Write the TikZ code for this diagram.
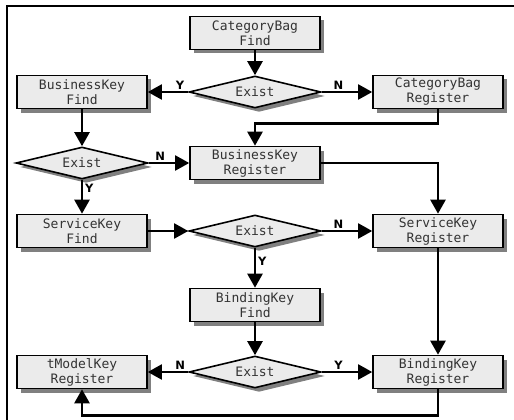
\documentclass[tikz,border=0pt]{standalone}
\usepackage{fontspec}
\setmonofont{DejaVu Sans Mono}
\setsansfont{DejaVu Sans}
\usetikzlibrary{positioning}
\usetikzlibrary{arrows.meta}
\usetikzlibrary{shapes.geometric}
\usetikzlibrary{shadows}
\definecolor{boxgray}{HTML}{EBEBEB}
\definecolor{shadowgray}{HTML}{808080}

\begin{document}
\begin{tikzpicture}[
            x = 1pt, y = -1pt, % pixel grid, y runs down
            > = {Triangle[length=14pt, width=15pt]}, % arrow head style
            line width = 2.4pt, % connector width
            font = \ttfamily\fontsize{13}{15}\selectfont
        ]

        \tikzstyle{box}=[
            draw,
            rectangle,
            line width = 1.6pt,
            fill = boxgray,
            text = black!80,
            align = center,
            inner sep = 0pt,
            minimum width = 130pt,
            minimum height = 33pt,
            drop shadow = {shadow xshift=4pt, shadow yshift=-4pt, fill=shadowgray, opacity=1}
        ]
        \tikzstyle{test}=[
            draw,
            diamond,
            aspect = 4,
            line width = 1.6pt,
            fill = boxgray,
            text = black!80,
            inner sep = 0pt,
            minimum width = 132pt,
            minimum height = 32pt,
            drop shadow = {shadow xshift=4pt, shadow yshift=-4pt, fill=shadowgray, opacity=1}
        ]
        \tikzstyle{yn}=[
            font = \sffamily\bfseries\fontsize{11.5}{12}\selectfont,
            inner sep = 2pt
        ]

        \useasboundingbox (0,0) rectangle (514,420);
        \draw[line width=2pt] (6.5,420) -- (6.5,6.5) -- (514,6.5);

        \node[box] (CBFind) at (255,33) {CategoryBag\\Find};
        \node[test] (D1) [node distance=59pt, below of=CBFind] {Exist};
        \node[box] (BKFind) [node distance=173pt, left of=D1] {BusinessKey\\Find};
        \node[box] (CBReg) [node distance=183pt, right of=D1] {CategoryBag\\Register};
        \node[test] (D2) [node distance=71pt, below of=BKFind] {Exist};
        \node[box] (BKReg) [node distance=173pt, right of=D2] {BusinessKey\\Register};
        \node[box] (SKFind) [node distance=68pt, below of=D2] {ServiceKey\\Find};
        \node[test] (D3) [node distance=173pt, right of=SKFind] {Exist};
        \node[box] (SKReg) [node distance=183pt, right of=D3] {ServiceKey\\Register};
        \node[box] (BDFind) [node distance=74pt, below of=D3] {BindingKey\\Find};
        \node[test] (D4) [node distance=67pt, below of=BDFind] {Exist};
        \node[box] (TMReg) [node distance=173pt, left of=D4] {tModelKey\\Register};
        \node[box] (BDReg) [node distance=183pt, right of=D4] {BindingKey\\Register};

        \path[->] (CBFind) edge (D1);
        \path[->] (D1) edge[line width=2pt] node[yn, above, pos=.2] {Y} (BKFind);
        \path[->] (D1) edge[line width=2pt] node[yn, above, pos=.33] {N} (CBReg);
        \draw[->] (CBReg.south) -- ++(0,14) -| (BKReg.north);

        \path[->] (BKFind) edge (D2);
        \path[->] (D2) edge[line width=2pt] node[yn, above, pos=.28] {N} (BKReg);
        \path[->] (D2) edge node[yn, right, pos=.25] {Y} (SKFind);
        \draw[->] (BKReg.east) -| (SKReg.north);

        \path[->] (SKFind) edge[line width=2pt] (D3);
        \path[->] (D3) edge[line width=2pt] node[yn, above, pos=.33] {N} (SKReg);
        \path[->] (D3) edge node[yn, right, pos=.35] {Y} (BDFind);
        \path[->] (SKReg) edge (BDReg);

        \path[->] (BDFind) edge (D4);
        \path[->] (D4) edge[line width=2pt] node[yn, above, pos=.2] {N} (TMReg);
        \path[->] (D4) edge[line width=2pt] node[yn, above, pos=.33] {Y} (BDReg);
        \draw[->] (BDReg.south) -- ++(0,26) -| (TMReg.south);

\end{tikzpicture}
\end{document}
